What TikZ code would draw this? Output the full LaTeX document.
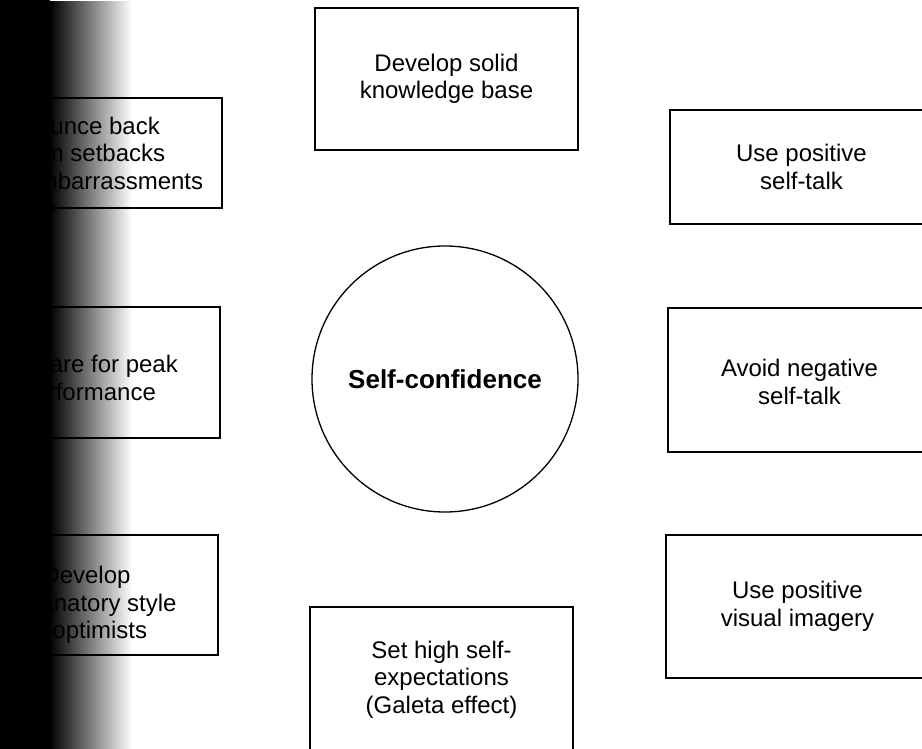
\documentclass[tikz,border=0pt]{standalone}
\usepackage{fontspec}
\setmainfont{Liberation Sans}
\usetikzlibrary{fadings}
% soft dark edge along the left margin
\tikzfading[name=edgeshade, left color=transparent!0, right color=transparent!100]
\begin{document}
\begin{tikzpicture}[x=1pt,y=-1pt,
  item/.style={draw, line width=1.6pt, minimum width=263pt, align=center,
    inner sep=0pt, font=\fontsize{24}{27.5}\selectfont},
  words/.style={align=center, inner sep=0pt, font=\fontsize{24}{27.5}\selectfont},
  core/.style={draw, circle, line width=1.3pt, minimum size=266pt, inner sep=0pt,
    font=\bfseries\fontsize{26}{30}\selectfont}]
\useasboundingbox (0,0) rectangle (922,749);
\clip (0,0) rectangle (922,749);

% centre
\node[core] (sc) at (445,379) {Self-confidence};

% top and bottom
\node[item, minimum height=142pt] (kb) at (446.5,79) {Develop solid\\knowledge base};
\node[item, minimum height=145pt] (exp) at (441.5,679.5) {Set high self-\\expectations\\(Galeta effect)};

% right column
\node[item, minimum height=114pt] (pos) at (801.5,167) {Use positive\\self-talk};
\node[item, minimum height=144pt] (neg) at (799.5,380) {};
\node[words] (negt) at ([yshift=-2pt]neg.center) {Avoid negative\\self-talk};
\node[item, minimum height=143pt] (img) at (797.5,606.5) {Use positive\\visual imagery};

% left column
\node[item, minimum height=110pt] (bb) at (90.5,153) {Bounce back\\from setbacks\\and embarrassments};
\node[item, minimum height=131pt] (pk) at (88.5,372.5) {};
\node[words] (pkt) at ([yshift=-8pt]pk.center) {Prepare for peak\\performance};
\node[item, minimum height=120pt] (op) at (86.5,595) {};
\node[words] (opt) at ([yshift=-10pt]op.center) {Develop\\explanatory style\\of optimists};

% dark edge
\fill[black] (0,0) rectangle (50,749);
\fill[black, path fading=edgeshade] (50,0) rectangle (132,749);
\end{tikzpicture}
\end{document}
